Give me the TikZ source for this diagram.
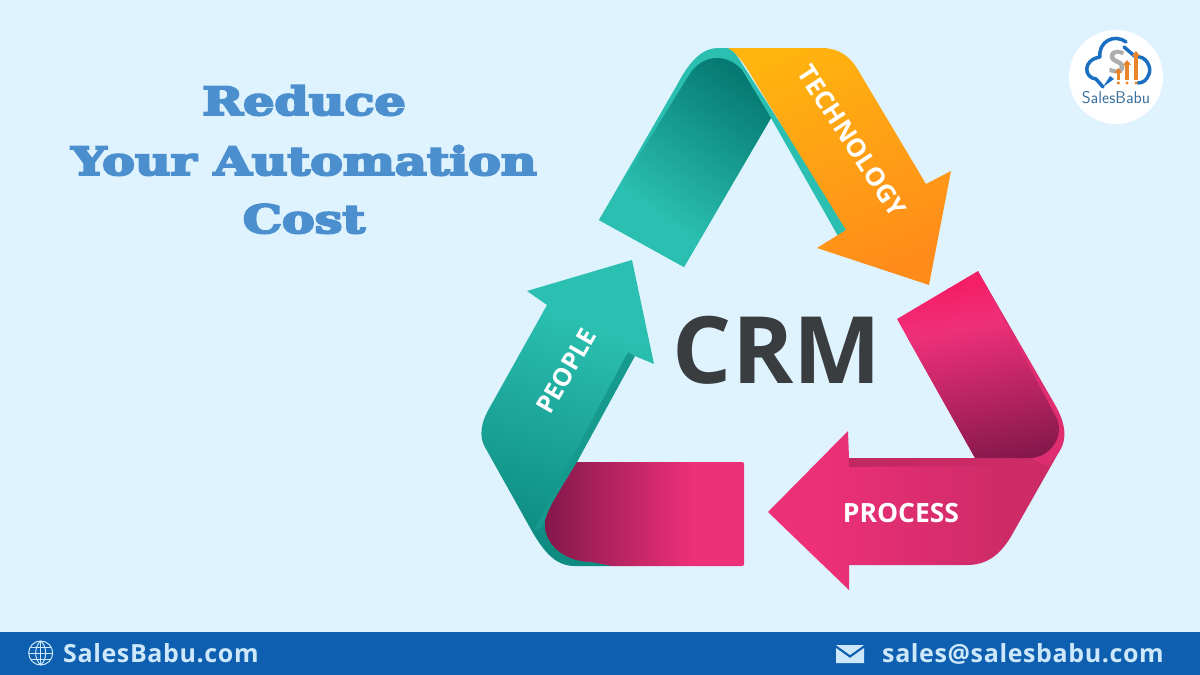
\documentclass[tikz,border=0pt]{standalone}
\usepackage{fontspec}
\usepackage{graphicx}
\setmainfont{Open Sans}
\newfontfamily\sbold{Open Sans}
\newfontfamily\footf{Open Sans}[LetterSpace=2.5]
\newfontfamily\tlHeavy{DejaVu Serif}[BoldFeatures={FakeBold=5}]
\definecolor{bgc}{HTML}{DFF3FE}
\definecolor{barc}{HTML}{0F5FB0}
\definecolor{footc}{HTML}{CDE8FA}
\definecolor{inkc}{HTML}{3A3D40}
\definecolor{titlec}{HTML}{4C8FCE}
\definecolor{tealc}{HTML}{2ABFB0}
\definecolor{teald}{HTML}{067A72}
\definecolor{tealm}{HTML}{169A8E}
\definecolor{tealb}{HTML}{0E8C82}
\definecolor{orgt}{HTML}{FFB40F}
\definecolor{orgb}{HTML}{FF8C1A}
\definecolor{pinkc}{HTML}{EE3079}
\definecolor{pinkt}{HTML}{F41F66}
\definecolor{pinkd}{HTML}{84184A}
\definecolor{pinkm}{HTML}{CC2B66}
\definecolor{logob}{HTML}{1A6FC0}
\definecolor{logoo}{HTML}{E8842A}
\definecolor{logot}{HTML}{3A6F9C}
% gradient from (x1,y1) to (x2,y2), in pixels, inside the current clip
\newcommand\gradfill[7]{%
  \pgfmathsetmacro\gang{atan2(-(#4-#2),#3-#1)-90}%
  \pgfmathsetmacro\glen{veclen(#3-#1,#4-#2)}%
  \begin{scope}[transform canvas={shift={(#1,#2)},rotate=\gang}]
    \fill[#5] (-700pt,-700pt) rectangle (700pt,0.5pt);
    \fill[#7] (-700pt,\glen pt-0.5pt) rectangle (700pt,700pt);
    \shade[bottom color=#5,middle color=#6,top color=#7] (-700pt,0pt) rectangle (700pt,\glen pt);
  \end{scope}}
\newcommand\heavytext[1]{\scalebox{1.26}[1]{\fontsize{39}{39}\selectfont\bfseries\tlHeavy #1}}
\tikzset{
  titlenode/.style={inner sep=0pt,anchor=base,text=titlec},
  ribbontext/.style={inner sep=0pt,text=white,font=\sbold\bfseries\fontsize{25.5}{25.5}\selectfont},
  footnode/.style={inner sep=0pt,anchor=base west,text=footc,font=\footf\bfseries\fontsize{25}{25}\selectfont},
  logoline/.style={draw=logob,line width=3.5pt,line cap=round,line join=round},
  barshape/.style={fill=logoo}
}
\begin{document}
\begin{tikzpicture}[x=1pt,y=-1pt]
\useasboundingbox (0,0) rectangle (1200,675);
\fill[bgc] (0,0) rectangle (1200,675);
\fill[barc] (0,632) rectangle (1200,675);

% title
\node[titlenode] (t1) at (304,115) {\heavytext{Reduce}};
\node[titlenode] (t2) at (304,175) {\heavytext{Your Automation}};
\node[titlenode] (t3) at (304,233) {\heavytext{Cost}};

% teal rim behind the technology arrow
\fill[tealc] (599,220) -- (677,85) .. controls (690,60) and (703,48) .. (718,48) -- (732,48) -- (850,232) -- (838,236) -- (771,118) -- (684,267) -- cycle;
% teal back face
\begin{scope}
\clip (599,220) -- (684,267) -- (771,118) -- (742,70) .. controls (735,62) and (726,58) .. (717,58) .. controls (707,58) and (698,63) .. (691,72) -- cycle;
\gradfill{752}{85}{660}{215}{teald}{tealm}{tealc}
\end{scope}
% orange arrow
\begin{scope}
\clip (728,48) -- (822,48) .. controls (838,48) and (850,56) .. (858,70) -- (926,184) -- (951,171) -- (929,285) -- (817,248) -- (846,230) -- (757,85) .. controls (748,70) and (740,55) .. (728,48) -- cycle;
\gradfill{790}{50}{880}{270}{orgt}{orgb!60!orgt}{orgb}
\end{scope}

% people arrow
\begin{scope}
\clip (632,260) -- (527,291) -- (547,305) -- (490,407) .. controls (481,422) and (478,437) .. (486,449) -- (533,533) .. controls (545,553) and (556,566) .. (575,566) -- (612,566) -- (590,500) -- (577,462) -- (628,352) -- (635,356) -- (654,364) -- cycle;
\gradfill{600}{330}{530}{535}{tealc}{tealc!80!tealb}{tealb}
\end{scope}
\fill[tealm] (628,352) -- (635,356) -- (577,462) -- (552,505) -- (541,528) -- (534,530) -- cycle;
% pink front face
\begin{scope}
\clip (744,463) -- (744,565) -- (742,566) -- (612,566) -- (592,562) .. controls (565,562) and (545,545) .. (545,525) .. controls (545,512) and (556,497) .. (577,462) -- (742,462) -- cycle;
\gradfill{545}{500}{695}{500}{pinkd}{pinkm}{pinkc}
\end{scope}

% process arrow
\begin{scope}
\clip (768,512) -- (848,431) -- (849,458) -- (975,458) -- (1030,450) -- (1060,450) -- (1013,533) .. controls (1003,551) and (990,565) .. (967,565) -- (849,565) -- (849,590) -- cycle;
\gradfill{810}{500}{1010}{500}{pinkc}{pinkm!60!pinkc}{pinkm}
\end{scope}
\begin{scope}
\clip (849,458) -- (849,467) -- (1047,465) -- (1050,458) -- cycle;
\gradfill{850}{460}{1010}{460}{pinkm!85!pinkd}{pinkm}{pinkm}
\end{scope}
% pink rim and back face
\fill[pinkm!45!pinkc] (978,271) -- (1054,403) .. controls (1067,425) and (1068,442) .. (1056,456) -- (1048,466) -- (1030,458) -- cycle;
\begin{scope}
\clip (978,271) -- (897,319) -- (975,458) -- (1030,458) .. controls (1050,458) and (1067,435) .. (1055,415) -- cycle;
\gradfill{968}{285}{975}{325}{pinkt}{pinkt!50!pinkc}{pinkc}
\clip (880,342) -- (1080,306) -- (1080,480) -- (880,480) -- cycle;
\gradfill{975}{325}{1004}{462}{pinkc}{pinkc!65!pinkm}{pinkd}
\end{scope}

% labels
\node[inner sep=0pt,text=inkc,font=\sbold\bfseries\fontsize{93}{93}\selectfont] (crm) at (777,350) {CRM};
\node[ribbontext,rotate=-57] (tech) at (852,141) {TECHNOLOGY};
\node[ribbontext,rotate=60,font=\sbold\bfseries\fontsize{25}{25}\selectfont] (people) at (566,371) {PEOPLE};
\node[ribbontext,font=\sbold\bfseries\fontsize{26.5}{26.5}\selectfont] (process) at (901,513.5) {PROCESS};

% logo
\fill[white] (1116,77) circle (47);
\draw[logoline] (1103,87) -- (1096,79) .. controls (1084,78) and (1082,60) .. (1100,57) .. controls (1098,42) and (1114,33) .. (1126,42);
\draw[logoline] (1124,47) .. controls (1130,52) and (1133,55) .. (1136,57) .. controls (1146,55) and (1152,68) .. (1149,74) .. controls (1147,80) and (1143,83) .. (1138,83);
\fill[logob] (1103,87) -- (1110,76) -- (1114,79) -- cycle;
\node[inner sep=0pt,text=black!32,font=\sbold\bfseries\fontsize{32}{32}\selectfont] (logos) at (1117,62) {S};
\fill[barshape] (1116.5,73) rectangle (1120,80);
\fill[barshape] (1125,65) rectangle (1129,80);
\fill[barshape] (1134,56) rectangle (1138,80);
\fill[barshape] (1114.5,73) -- (1118.3,68) -- (1122,73) -- cycle;
\fill[barshape] (1123,65) -- (1127,60) -- (1131,65) -- cycle;
\fill[barshape] (1132,56) -- (1136,51) -- (1140,56) -- cycle;
\foreach \bx in {1118.3,1127,1136}{\fill[barshape] (\bx,83) circle (1.7);}
\node[inner sep=0pt,text=logot,font=\sffamily\fontsize{17}{17}\selectfont] (logot) at (1116,97.5) {SalesBabu};

% footer
\node[footnode] (web) at (63,662) {SalesBabu.com};
\node[footnode] (mail) at (882,662) {sales@salesbabu.com};
\begin{scope}[draw=footc,line width=1pt]
\draw (40.7,653) circle (12);
\draw (40.7,641) .. controls (34,647) and (34,659) .. (40.7,665);
\draw (40.7,641) .. controls (47.4,647) and (47.4,659) .. (40.7,665);
\draw (40.7,641) -- (40.7,665);
\draw (28.7,653) -- (52.7,653);
\draw (30.5,647) -- (50.9,647);
\draw (30.5,659) -- (50.9,659);
\end{scope}
\fill[footc] (836,645) -- (864,645) -- (850,655) -- cycle;
\fill[footc] (836,648) -- (850,658) -- (864,648) -- (864,663) -- (836,663) -- cycle;
\end{tikzpicture}
\end{document}
